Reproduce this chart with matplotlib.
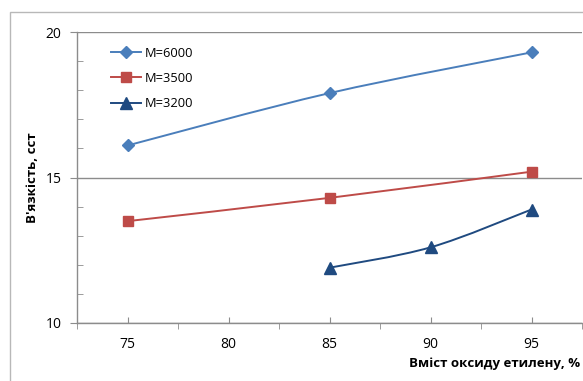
from matplotlib import pyplot as plt
from matplotlib.lines import Line2D
from matplotlib.patches import PathPatch, Rectangle
from matplotlib.path import Path

# oxide content, %
x6000 = [75, 85, 95]
y6000 = [16.1, 17.9, 19.3]
x3500 = [75, 85, 95]
y3500 = [13.5, 14.3, 15.2]
x3200 = [85, 90, 95]
y3200 = [11.9, 12.6, 13.9]

labels = ["M=6000", "M=3500", "M=3200"]
xTicks = [75, 80, 85, 90, 95]
yTicks = [10, 15, 20]

GRAY = "#8c8c8c"


def smoothPath(xs, ys):
    # excel-like smoothed line: catmull-rom segments as cubic beziers
    pts = list(zip(xs, ys))
    verts = [pts[0]]
    codes = [Path.MOVETO]
    for i in range(len(pts) - 1):
        p0 = pts[i - 1] if i > 0 else pts[i]
        p1 = pts[i]
        p2 = pts[i + 1]
        p3 = pts[i + 2] if i + 2 < len(pts) else pts[i + 1]
        c1 = (p1[0] + (p2[0] - p0[0]) / 6, p1[1] + (p2[1] - p0[1]) / 6)
        c2 = (p2[0] - (p3[0] - p1[0]) / 6, p2[1] - (p3[1] - p1[1]) / 6)
        verts += [c1, c2, p2]
        codes += [Path.CURVE4] * 3
    return Path(verts, codes)


def plot(outputFilePath):
    plt.rcParams["font.family"] = ["Open Sans", "DejaVu Sans"]
    fig = plt.figure(figsize=(5.83, 3.81), dpi=100)
    W, H = 583, 381
    ax = fig.add_axes([77 / W, 1 - 323 / H, 505 / W, 291 / H])

    # chart area border (only left and top are visible)
    fig.patches.append(Rectangle((10 / W, -0.1), 1.2, 1 - 12 / H + 0.1,
                                 transform=fig.transFigure, fill=False,
                                 edgecolor="#b8b8b8", linewidth=1.0))

    series = [
        (x6000, y6000, "#4a7ebb", "D", 6),
        (x3500, y3500, "#be4b48", "s", 6.5),
        (x3200, y3200, "#1f4a80", "^", 8.5),
    ]
    handles = []
    for (xs, ys, color, marker, ms), label in zip(series, labels):
        ax.add_patch(PathPatch(smoothPath(xs, ys), fill=False,
                               edgecolor=color, linewidth=1.4, zorder=3))
        ax.plot(xs, ys, linestyle="none", marker=marker, markersize=ms,
                color=color, zorder=4)
        handles.append(Line2D([], [], color=color, linewidth=1.4,
                              marker=marker, markersize=ms, label=label))

    ax.set_xlim(72.5, 97.5)
    ax.set_ylim(10, 20)
    ax.set_xticks(xTicks)
    ax.set_xticks([72.5 + 5 * i for i in range(6)], minor=True)
    ax.set_yticks(yTicks)
    ax.set_yticks(range(10, 21), minor=True)

    for side in ["top", "right"]:
        ax.spines[side].set_visible(False)
    for side in ["left", "bottom"]:
        ax.spines[side].set_color(GRAY)
        ax.spines[side].set_linewidth(1.0)

    ax.yaxis.grid(True, which="major", color=GRAY, linewidth=1.0)
    ax.set_axisbelow(True)

    ax.tick_params(axis="x", which="major", direction="in", length=4,
                   color=GRAY, labelsize=10, pad=10)
    ax.tick_params(axis="x", which="minor", direction="out", length=4,
                   color=GRAY)
    ax.tick_params(axis="y", which="major", direction="out", length=5,
                   color=GRAY, labelsize=10, pad=6)
    ax.tick_params(axis="y", which="minor", direction="in", length=4,
                   color=GRAY)

    ax.legend(handles=handles, loc="upper left",
              bbox_to_anchor=(0.045, 0.99), frameon=False, fontsize=9.3,
              handlelength=2.3, handletextpad=0.3, labelspacing=0.95)

    fig.text(580 / W, 1 - 364 / H, "Вміст оксиду етилену, %", ha="right",
             va="center", fontsize=9.5, fontweight="bold")
    fig.text(32 / W, 1 - 178 / H, "В'язкість, сст", ha="center",
             va="center", rotation=90, fontsize=9.5, fontweight="bold")

    plt.savefig(outputFilePath, dpi=100)


def main():
    plot(outputFilePath="out.png")


if __name__ == "__main__":
    main()
